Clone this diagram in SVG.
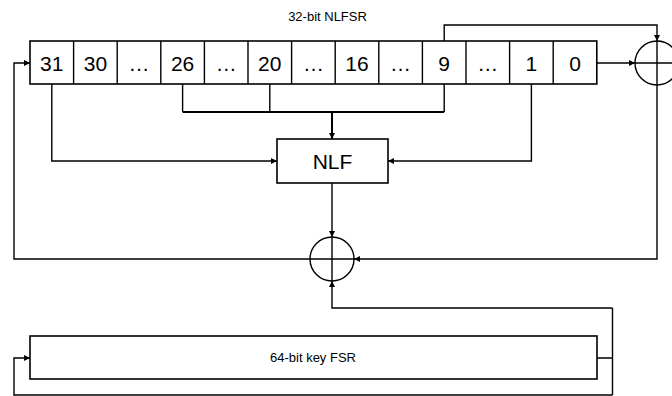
<svg xmlns="http://www.w3.org/2000/svg" width="672" height="396" viewBox="0 0 672 396">
<style>
.box{fill:#fff;stroke:#000;stroke-width:1.6}
.ln{fill:none;stroke:#000;stroke-width:1.4}
.bus{fill:none;stroke:#000;stroke-width:2}
.big{font-family:"Liberation Sans",Arial,sans-serif;font-size:21px;fill:#000;text-anchor:middle}
.sm{font-family:"Liberation Sans",Arial,sans-serif;font-size:13px;fill:#000;text-anchor:middle}
.arr{marker-end:url(#ah)}
</style>
<defs>
<marker id="ah" viewBox="0 0 10 10" refX="10" refY="5" markerWidth="6" markerHeight="6" markerUnits="userSpaceOnUse" orient="auto">
<path d="M0,0 L10,5 L0,10 z" fill="#000"/>
</marker>
</defs>
<rect width="672" height="396" fill="#fff"/>
<text class="sm" x="327.5" y="20.5">32-bit NLFSR</text>
<g id="nlfsr">
<rect class="box" x="30" y="41" width="566.8" height="43"/>
<g class="ln">
<line x1="73.6" y1="41" x2="73.6" y2="84"/>
<line x1="117.2" y1="41" x2="117.2" y2="84"/>
<line x1="160.8" y1="41" x2="160.8" y2="84"/>
<line x1="204.4" y1="41" x2="204.4" y2="84"/>
<line x1="248" y1="41" x2="248" y2="84"/>
<line x1="291.6" y1="41" x2="291.6" y2="84"/>
<line x1="335.2" y1="41" x2="335.2" y2="84"/>
<line x1="378.8" y1="41" x2="378.8" y2="84"/>
<line x1="422.4" y1="41" x2="422.4" y2="84"/>
<line x1="466" y1="41" x2="466" y2="84"/>
<line x1="509.6" y1="41" x2="509.6" y2="84"/>
<line x1="553.2" y1="41" x2="553.2" y2="84"/>
</g>
<text class="big" x="51.8" y="71">31</text>
<text class="big" x="95.4" y="71">30</text>
<text class="big" x="139" y="71">…</text>
<text class="big" x="182.6" y="71">26</text>
<text class="big" x="226.2" y="71">…</text>
<text class="big" x="269.8" y="71">20</text>
<text class="big" x="313.4" y="71">…</text>
<text class="big" x="357" y="71">16</text>
<text class="big" x="400.6" y="71">…</text>
<text class="big" x="444.2" y="71">9</text>
<text class="big" x="487.8" y="71">…</text>
<text class="big" x="531.4" y="71">1</text>
<text class="big" x="575" y="71">0</text>
</g>
<g id="nlf">
<rect class="box" x="277" y="139" width="111" height="44"/>
<text class="big" x="332.5" y="168.5">NLF</text>
</g>
<g id="xor-top">
<circle class="ln" cx="657" cy="63" r="22"/>
<line class="ln" x1="635" y1="63" x2="679" y2="63"/>
</g>
<g id="xor-mid">
<circle class="ln" cx="332" cy="259" r="22"/>
<line class="ln" x1="310" y1="259" x2="354" y2="259"/>
<line class="ln" x1="332" y1="237" x2="332" y2="281"/>
</g>
<g id="keyfsr">
<rect class="box" x="30" y="336" width="567" height="43"/>
<text class="sm" x="313" y="362">64-bit key FSR</text>
</g>
<g id="connectors">
<path class="ln arr" d="M444.2,41 V25 H657 V41"/>
<path class="ln arr" d="M596.8,63 H635"/>
<path class="ln arr" d="M657,41 V259 H354"/>
<path class="ln arr" d="M310,259 H14 V63 H30"/>
<path class="ln arr" d="M51.8,84 V161 H277"/>
<path class="ln" d="M182.6,84 V112 M269.8,84 V112 M444.2,84 V112"/>
<path class="bus" d="M182.6,112 H444.2"/>
<path class="bus arr" d="M332,112 V139"/>
<path class="ln arr" d="M531.4,84 V161 H388"/>
<path class="ln arr" d="M332,183 V237"/>
<path class="ln" d="M597,358 H612.5 M612.5,308 V395"/>
<path class="ln arr" d="M612.5,308 H332 V281"/>
<path class="ln arr" d="M612.5,395 H14 V358 H30"/>
</g>
</svg>
